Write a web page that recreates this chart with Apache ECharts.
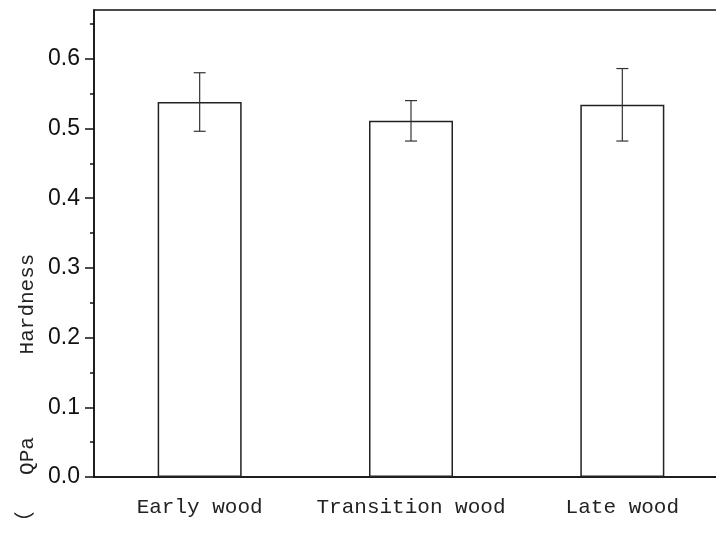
<!DOCTYPE html>
<html>
<head>
<meta charset="utf-8">
<title>Hardness</title>
<script src="https://cdn.jsdelivr.net/npm/echarts@6/dist/echarts.min.js"></script>
<style>
  html, body { margin: 0; padding: 0; background: #fff; }
  #main { width: 716px; height: 533px; }
</style>
</head>
<body>
<div id="main"></div>
<script>
// data
var categories = ['Early wood', 'Transition wood', 'Late wood'];
var hardness = [0.538, 0.511, 0.534];
var hardnessErr = [0.042, 0.029, 0.052];
var majorTicks = [0, 0.1, 0.2, 0.3, 0.4, 0.5, 0.6];
var minorTicks = [0.05, 0.15, 0.25, 0.35, 0.45, 0.55, 0.65];

var chart = echarts.init(document.getElementById('main'), null, { renderer: 'canvas' });

var monoFont = '"Liberation Mono", "DejaVu Sans Mono", monospace';

// error bar data: [index, mean, err]
var errData = categories.map(function (c, i) {
  return [i, hardness[i], hardnessErr[i]];
});

function renderErr(params, api) {
  var i = api.value(0);
  var mean = api.value(1);
  var err = api.value(2);
  var hi = api.coord([i, mean + err]);
  var lo = api.coord([i, mean - err]);
  var cap = 6;
  var style = { stroke: '#333', lineWidth: 1.2 };
  return {
    type: 'group',
    children: [
      { type: 'line', shape: { x1: hi[0], y1: hi[1], x2: lo[0], y2: lo[1] }, style: style },
      { type: 'line', shape: { x1: hi[0] - cap, y1: hi[1], x2: hi[0] + cap, y2: hi[1] }, style: style },
      { type: 'line', shape: { x1: lo[0] - cap, y1: lo[1], x2: lo[0] + cap, y2: lo[1] }, style: style }
    ]
  };
}

var option = {
  animation: false,
  backgroundColor: '#fff',
  grid: {
    left: 94,
    top: 10,
    width: 634,   // plot runs past the right edge of the picture
    height: 467,
    outerBoundsMode: 'none',
    show: true,
    borderColor: '#111',
    borderWidth: 1.5,
    backgroundColor: 'transparent'
  },
  xAxis: {
    type: 'category',
    data: categories,
    axisLine: { lineStyle: { color: '#111', width: 1.5 } },
    axisTick: { alignWithLabel: true, length: 9, lineStyle: { color: '#111', width: 1.5 } },
    axisLabel: {
      interval: 0,
      hideOverlap: false,
      margin: 20,
      fontFamily: monoFont,
      fontSize: 21,
      color: '#222'
    },
    splitLine: { show: false }
  },
  yAxis: [
    {
      type: 'value',
      min: 0,
      max: 0.67,
      interval: 0.1,
      axisLine: { show: true, lineStyle: { color: '#111', width: 1.5 } },
      axisTick: { show: true, length: 9, customValues: majorTicks, lineStyle: { color: '#111', width: 1.5 } },
      axisLabel: {
        margin: 14,
        customValues: majorTicks,
        fontFamily: '"Liberation Sans", Arial, sans-serif',
        fontSize: 23,
        color: '#111',
        formatter: function (v) { return v.toFixed(1); }
      },
      splitLine: { show: false }
    },
    {
      // minor ticks only
      type: 'value',
      position: 'left',
      min: 0,
      max: 0.67,
      interval: 0.05,
      axisLine: { show: false },
      axisTick: { show: true, length: 4, customValues: minorTicks, lineStyle: { color: '#111', width: 1.5 } },
      axisLabel: { show: false },
      splitLine: { show: false }
    }
  ],
  graphic: [
    {
      type: 'text', x: 27, y: 304, rotation: Math.PI / 2,
      style: { text: 'Hardness', fontFamily: monoFont, fontSize: 21, fill: '#222', align: 'center', verticalAlign: 'middle' }
    },
    {
      type: 'text', x: 27, y: 456, rotation: Math.PI / 2,
      style: { text: 'QPa', fontFamily: monoFont, fontSize: 21, fill: '#222', align: 'center', verticalAlign: 'middle' }
    },
    {
      type: 'text', x: 24, y: 522, rotation: Math.PI / 2,
      style: { text: '（', fontFamily: '"Noto Sans CJK SC", sans-serif', fontSize: 21, fill: '#222', align: 'center', verticalAlign: 'middle' }
    }
  ],
  series: [
    {
      type: 'bar',
      data: hardness,
      barWidth: 84,
      itemStyle: { color: '#fff', borderColor: '#222', borderWidth: 1.5 }
    },
    {
      type: 'custom',
      data: errData,
      renderItem: renderErr,
      z: 10
    }
  ]
};

chart.setOption(option);
</script>
</body>
</html>
